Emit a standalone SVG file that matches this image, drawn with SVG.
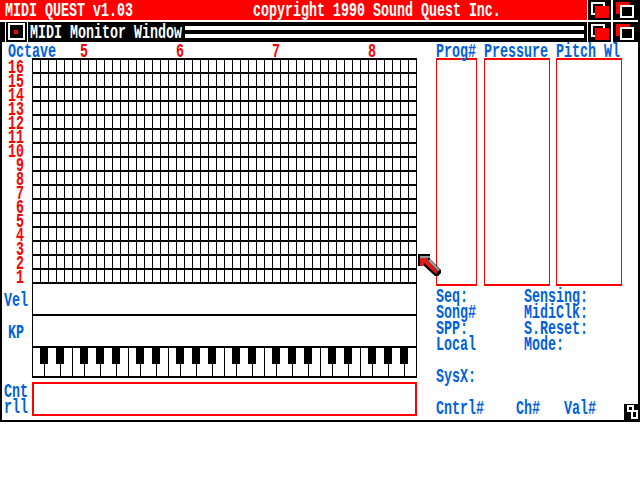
<svg xmlns="http://www.w3.org/2000/svg" width="640" height="480" viewBox="0 0 640 480">
<style>
rect,path.c{shape-rendering:crispEdges}
text{font-family:"Liberation Mono","DejaVu Sans Mono",monospace;font-weight:bold;font-size:13.33px}
.b{fill:#0060e0}.r{fill:#f00}.w{fill:#fff}
.bx{fill:none;stroke:#f00}
.ln{fill:none;stroke:#000;shape-rendering:crispEdges}
</style>
<defs>
<g id="btnA"><rect x="0" y="0" width="23" height="20" fill="#000"/><rect x="4" y="3" width="12" height="11" fill="none" stroke="#fff" stroke-width="2"/><rect x="7" y="6" width="14" height="12" fill="#f00"/></g>
<g id="btnB"><rect x="0" y="0" width="25" height="20" fill="#000"/><rect x="3" y="2" width="14" height="12" fill="#f00"/><rect x="8" y="6" width="12" height="11" fill="#000" stroke="#fff" stroke-width="2"/></g>
</defs>
<rect width="640" height="480" fill="#fff"/>
<g id="window-frame">
<rect x="0" y="0" width="587" height="20" fill="#f00"/>
<rect x="0" y="22" width="5" height="20" fill="#000"/>
<rect x="6" y="22" width="21" height="20" fill="#000"/>
<rect x="9" y="24" width="15" height="15" fill="none" stroke="#fff" stroke-width="2"/>
<rect x="14" y="30" width="4" height="4" fill="#f00"/>
<rect x="28" y="22" width="559" height="20" fill="#000"/>
<rect x="185" y="26" width="399" height="4" fill="#fff"/>
<rect x="185" y="34" width="399" height="4" fill="#fff"/>
<rect x="0" y="42" width="2" height="380" fill="#000"/>
<rect x="0" y="420" width="640" height="2" fill="#000"/>
<rect x="638" y="0" width="2" height="422" fill="#000"/>
</g>
<g id="title-text">
<text class="w" transform="translate(5 16) scale(1 1.5)">MIDI QUEST v1.03</text>
<text class="w" transform="translate(253 16) scale(1 1.5)">copyright 1990 Sound Quest Inc.</text>
<text class="w" transform="translate(30 38) scale(1 1.5)">MIDI Monitor Window</text>
</g>
<g id="window-buttons">
<use href="#btnA" x="588" y="0"/><use href="#btnB" x="613" y="0"/>
<use href="#btnA" x="588" y="22"/><use href="#btnB" x="613" y="22"/>
</g>
<g id="note-grid">
<path class="ln" stroke-width="1" d="M32.5 58V284M40.5 58V284M48.5 58V284M56.5 58V284M64.5 58V284M72.5 58V284M80.5 58V284M88.5 58V284M96.5 58V284M104.5 58V284M112.5 58V284M120.5 58V284M128.5 58V284M136.5 58V284M144.5 58V284M152.5 58V284M160.5 58V284M168.5 58V284M176.5 58V284M184.5 58V284M192.5 58V284M200.5 58V284M208.5 58V284M216.5 58V284M224.5 58V284M232.5 58V284M240.5 58V284M248.5 58V284M256.5 58V284M264.5 58V284M272.5 58V284M280.5 58V284M288.5 58V284M296.5 58V284M304.5 58V284M312.5 58V284M320.5 58V284M328.5 58V284M336.5 58V284M344.5 58V284M352.5 58V284M360.5 58V284M368.5 58V284M376.5 58V284M384.5 58V284M392.5 58V284M400.5 58V284M408.5 58V284M416.5 58V284"/>
<path class="ln" stroke-width="2" d="M32 59H417M32 73H417M32 87H417M32 101H417M32 115H417M32 129H417M32 143H417M32 157H417M32 171H417M32 185H417M32 199H417M32 213H417M32 227H417M32 241H417M32 255H417M32 269H417M32 283H417"/>
</g>
<g id="vel-kp-panels">
<path class="ln" stroke-width="1" d="M32.5 284V378M416.5 284V378"/>
<path class="ln" stroke-width="2" d="M32 315H417M32 347H417M32 377H417"/>
</g>
<g id="keyboard">
<path fill="#000" class="c" d="M40 348h8v16h-8zM56 348h8v16h-8zM80 348h8v16h-8zM96 348h8v16h-8zM112 348h8v16h-8zM136 348h8v16h-8zM152 348h8v16h-8zM176 348h8v16h-8zM192 348h8v16h-8zM208 348h8v16h-8zM232 348h8v16h-8zM248 348h8v16h-8zM272 348h8v16h-8zM288 348h8v16h-8zM304 348h8v16h-8zM328 348h8v16h-8zM344 348h8v16h-8zM368 348h8v16h-8zM384 348h8v16h-8zM400 348h8v16h-8z"/>
<path class="ln" stroke-width="1" d="M44.5 364V376M60.5 364V376M72.5 348V376M84.5 364V376M100.5 364V376M116.5 364V376M128.5 348V376M140.5 364V376M156.5 364V376M168.5 348V376M180.5 364V376M196.5 364V376M212.5 364V376M224.5 348V376M236.5 364V376M252.5 364V376M264.5 348V376M276.5 364V376M292.5 364V376M308.5 364V376M320.5 348V376M332.5 364V376M348.5 364V376M360.5 348V376M372.5 364V376M388.5 364V376M404.5 364V376"/>
</g>
<g id="red-panels">
<rect class="bx" stroke-width="2" x="33" y="383" width="383" height="32"/>
<path class="bx c" stroke-width="1" d="M436.5 59V285M476.5 59V285M484.5 59V285M549.5 59V285M556.5 59V285M621.5 59V285"/>
<path class="bx c" stroke-width="2" d="M436 59H477M436 285H477M484 59H550M484 285H550M556 59H622M556 285H622"/>
</g>
<g id="labels">
<text class="b" transform="translate(8 57) scale(1 1.5)">Octave</text>
<text class="r" transform="translate(80 57) scale(1 1.5)">5</text>
<text class="r" transform="translate(176 57) scale(1 1.5)">6</text>
<text class="r" transform="translate(272 57) scale(1 1.5)">7</text>
<text class="r" transform="translate(368 57) scale(1 1.5)">8</text>
<text class="r" transform="translate(8 73) scale(1 1.5)">16</text>
<text class="r" transform="translate(8 87) scale(1 1.5)">15</text>
<text class="r" transform="translate(8 101) scale(1 1.5)">14</text>
<text class="r" transform="translate(8 115) scale(1 1.5)">13</text>
<text class="r" transform="translate(8 129) scale(1 1.5)">12</text>
<text class="r" transform="translate(8 143) scale(1 1.5)">11</text>
<text class="r" transform="translate(8 157) scale(1 1.5)">10</text>
<text class="r" transform="translate(16 171) scale(1 1.5)">9</text>
<text class="r" transform="translate(16 185) scale(1 1.5)">8</text>
<text class="r" transform="translate(16 199) scale(1 1.5)">7</text>
<text class="r" transform="translate(16 213) scale(1 1.5)">6</text>
<text class="r" transform="translate(16 227) scale(1 1.5)">5</text>
<text class="r" transform="translate(16 241) scale(1 1.5)">4</text>
<text class="r" transform="translate(16 255) scale(1 1.5)">3</text>
<text class="r" transform="translate(16 269) scale(1 1.5)">2</text>
<text class="r" transform="translate(16 283) scale(1 1.5)">1</text>
<text class="b" transform="translate(4 306) scale(1 1.5)">Vel</text>
<text class="b" transform="translate(8 338) scale(1 1.5)">KP</text>
<text class="b" transform="translate(4 397) scale(1 1.5)">Cnt</text>
<text class="b" transform="translate(4 413) scale(1 1.5)">rll</text>
<text class="b" transform="translate(436 57) scale(1 1.5)">Prog#</text>
<text class="b" transform="translate(484 57) scale(1 1.5)">Pressure</text>
<text class="b" transform="translate(556 57) scale(1 1.5)">Pitch Wl</text>
<text class="b" transform="translate(436 302) scale(1 1.5)">Seq:</text>
<text class="b" transform="translate(436 318) scale(1 1.5)">Song#</text>
<text class="b" transform="translate(436 334) scale(1 1.5)">SPP:</text>
<text class="b" transform="translate(436 350) scale(1 1.5)">Local</text>
<text class="b" transform="translate(436 382) scale(1 1.5)">SysX:</text>
<text class="b" transform="translate(436 414) scale(1 1.5)">Cntrl#</text>
<text class="b" transform="translate(516 414) scale(1 1.5)">Ch#</text>
<text class="b" transform="translate(564 414) scale(1 1.5)">Val#</text>
<text class="b" transform="translate(524 302) scale(1 1.5)">Sensing:</text>
<text class="b" transform="translate(524 318) scale(1 1.5)">MidiClk:</text>
<text class="b" transform="translate(524 334) scale(1 1.5)">S.Reset:</text>
<text class="b" transform="translate(524 350) scale(1 1.5)">Mode:</text>
</g>
<g id="size-gadget">
<rect x="624" y="404" width="16" height="18" fill="#000"/>
<rect x="628" y="406" width="5" height="5" fill="none" stroke="#fff" stroke-width="1.5"/>
<rect x="632" y="411" width="5" height="7" fill="#000" stroke="#fff" stroke-width="1.5"/>
</g>
<g id="pointer">
<path fill="#000" d="M418 254H430V259L441 270V273L438 276H435L424 266H418Z"/>
<path fill="#999" d="M420 256H430V258H420ZM430 259L440 270L438 271L428 261Z"/>
<path fill="#e01818" d="M420 258H428V261L438 271.5L436 274L424 263V266H420Z"/>
</g>
</svg>
